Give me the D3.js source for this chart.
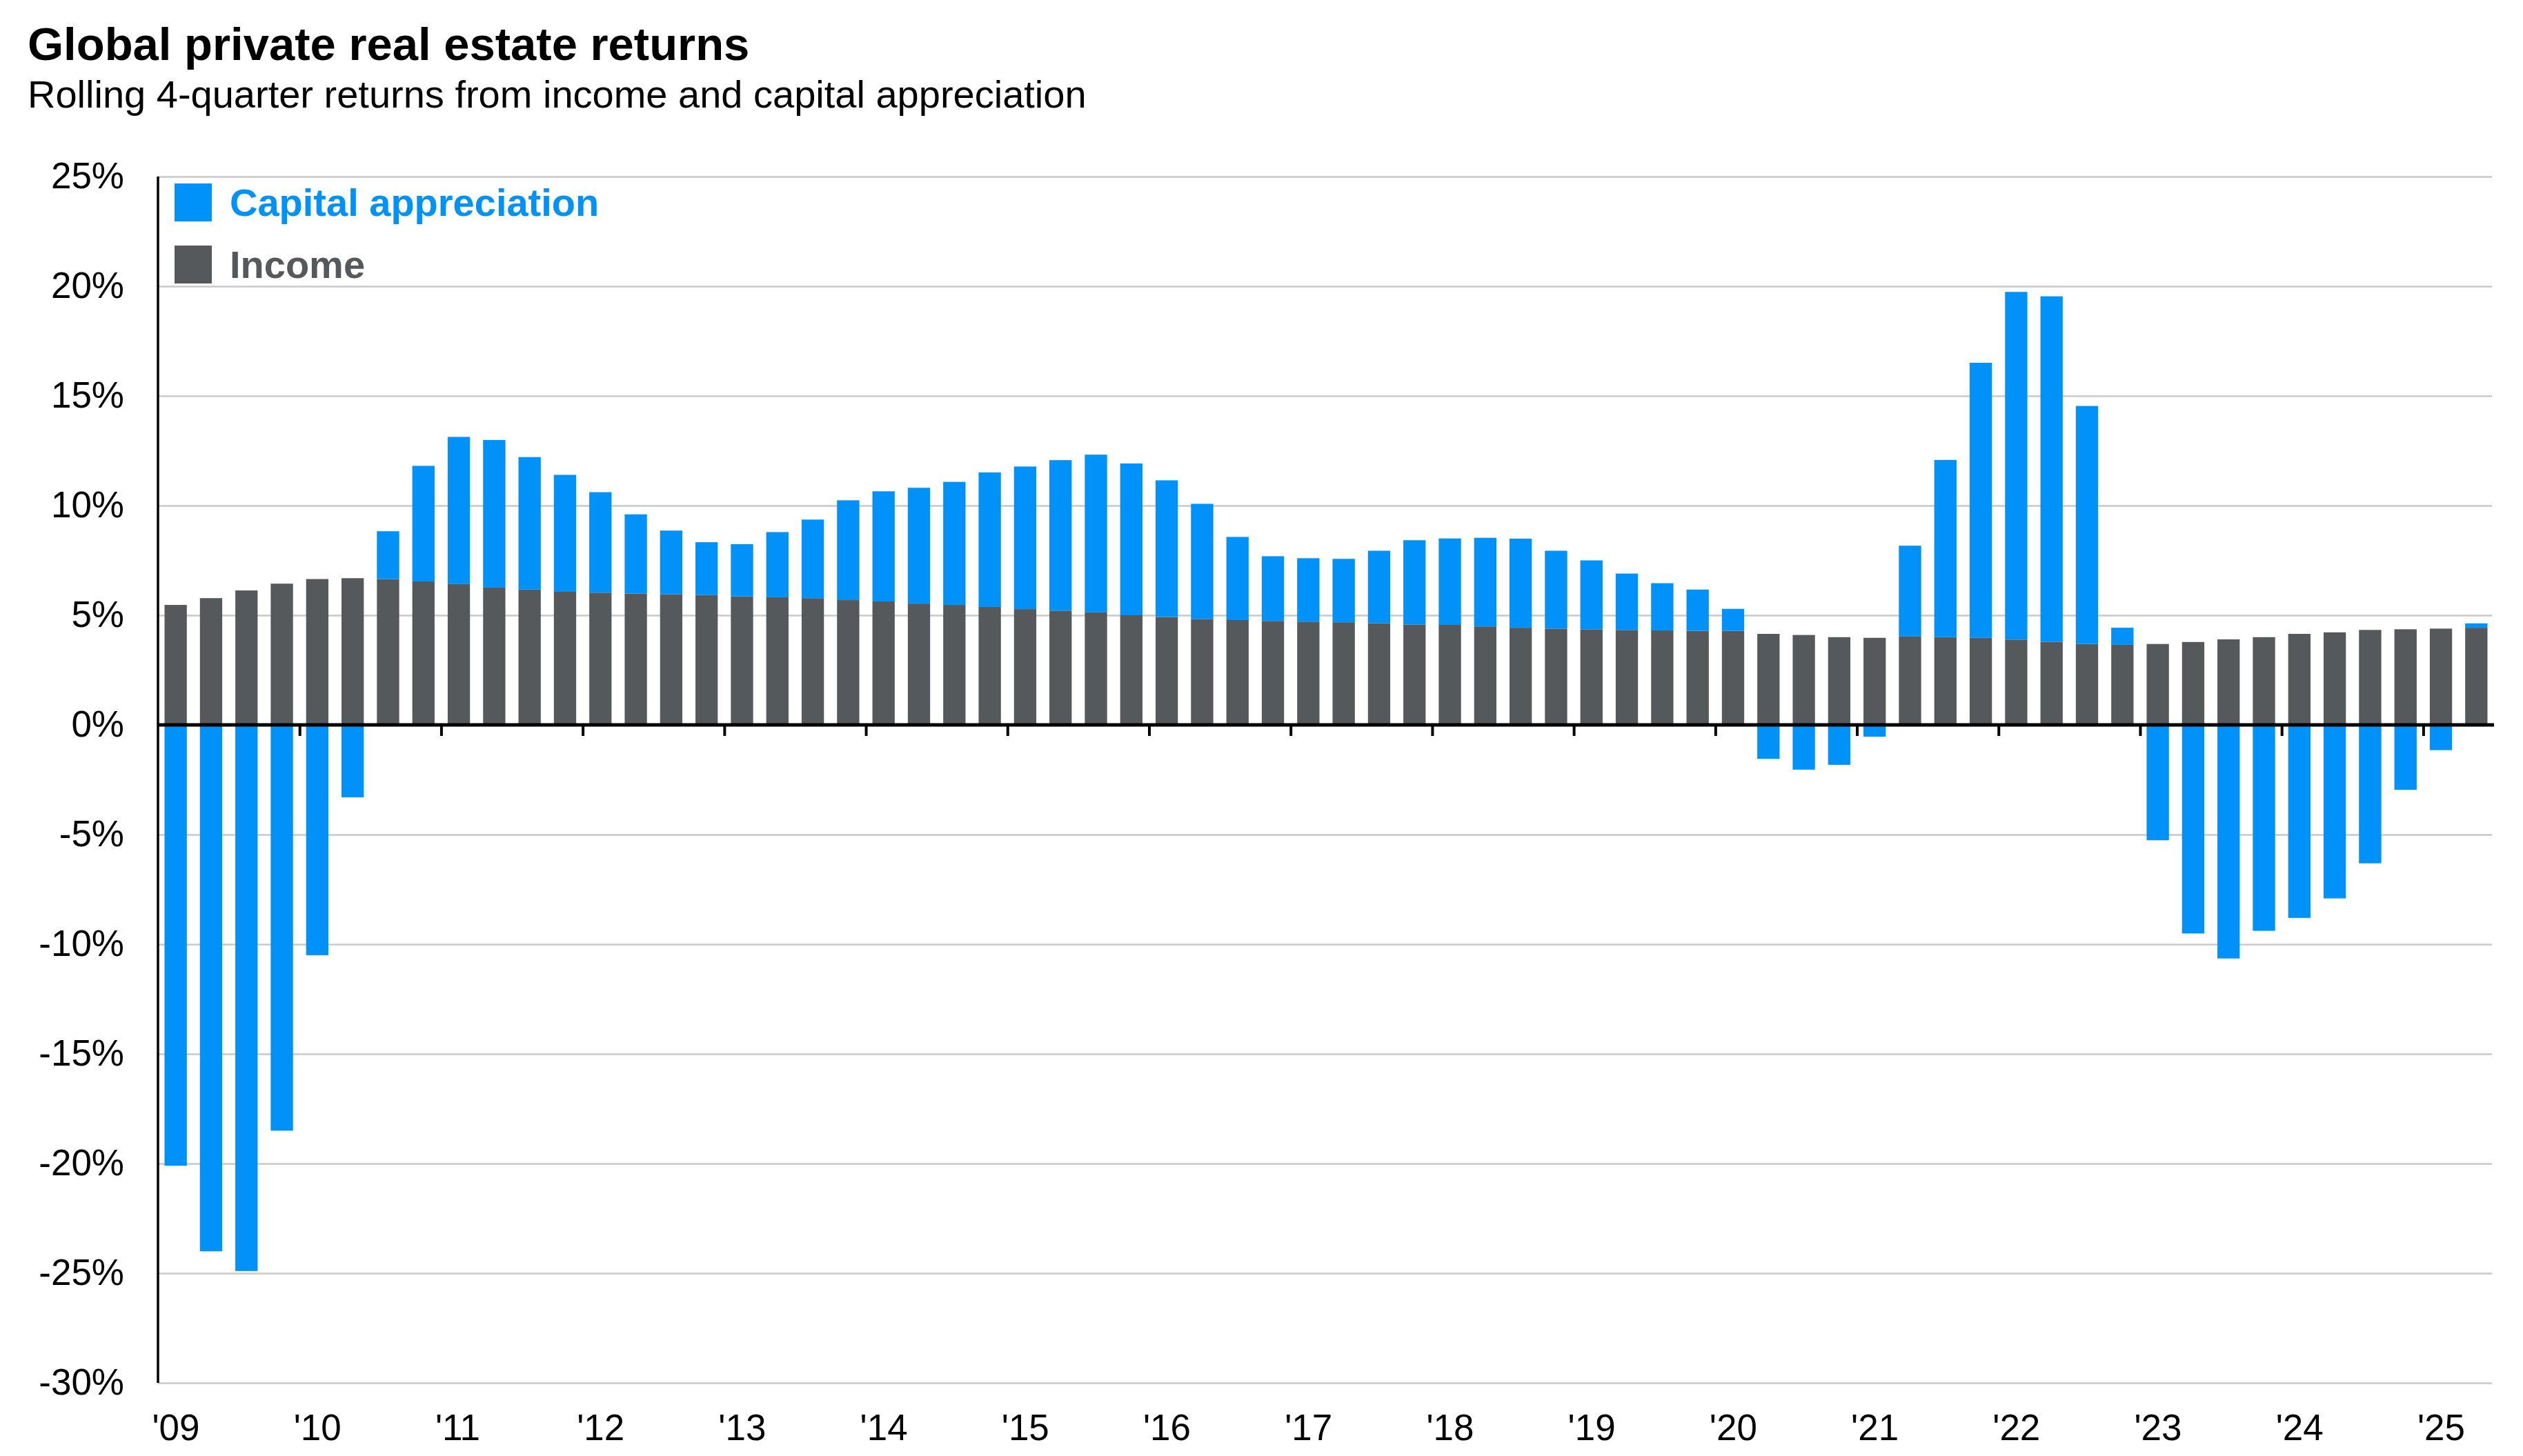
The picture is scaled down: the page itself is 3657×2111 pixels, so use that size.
<!DOCTYPE html>
<html>
<head>
<meta charset="utf-8">
<script src="https://cdn.jsdelivr.net/npm/d3@7"></script>
<style>
  body { margin: 0; background: #fff; }
  text { font-family: "Liberation Sans", Arial, sans-serif; }
</style>
</head>
<body>
<svg id="chart"></svg>
<script>

// Quarter categories, 1Q09 .. 2Q25
const quarters = [
  "1Q09","2Q09","3Q09","4Q09","1Q10","2Q10","3Q10","4Q10",
  "1Q11","2Q11","3Q11","4Q11","1Q12","2Q12","3Q12","4Q12",
  "1Q13","2Q13","3Q13","4Q13","1Q14","2Q14","3Q14","4Q14",
  "1Q15","2Q15","3Q15","4Q15","1Q16","2Q16","3Q16","4Q16",
  "1Q17","2Q17","3Q17","4Q17","1Q18","2Q18","3Q18","4Q18",
  "1Q19","2Q19","3Q19","4Q19","1Q20","2Q20","3Q20","4Q20",
  "1Q21","2Q21","3Q21","4Q21","1Q22","2Q22","3Q22","4Q22",
  "1Q23","2Q23","3Q23","4Q23","1Q24","2Q24","3Q24","4Q24",
  "1Q25","2Q25"
];

// Rolling 4-quarter income return (%)
const income = [
  5.47, 5.78, 6.13, 6.44, 6.65, 6.69, 6.65, 6.54,
  6.42, 6.26, 6.17, 6.07, 6.03, 5.99, 5.96, 5.92,
  5.86, 5.82, 5.78, 5.69, 5.63, 5.53, 5.47, 5.38,
  5.28, 5.21, 5.13, 5.00, 4.92, 4.83, 4.78, 4.74,
  4.71, 4.68, 4.64, 4.58, 4.56, 4.49, 4.43, 4.39,
  4.36, 4.33, 4.31, 4.29, 4.29, 4.15, 4.10, 4.00,
  3.97, 4.03, 4.00, 3.97, 3.89, 3.79, 3.69, 3.65,
  3.69, 3.78, 3.90, 4.00, 4.15, 4.22, 4.33, 4.36,
  4.39, 4.43
];

// Rolling 4-quarter capital appreciation (%)
const capital = [
  -20.1, -24.0, -24.9, -18.5, -10.5, -3.3, 2.18, 5.27,
  6.71, 6.73, 6.04, 5.33, 4.58, 3.61, 2.90, 2.41,
  2.38, 2.97, 3.58, 4.55, 5.02, 5.28, 5.61, 6.13,
  6.50, 6.86, 7.19, 6.92, 6.23, 5.25, 3.79, 2.95,
  2.89, 2.89, 3.30, 3.84, 3.94, 4.04, 4.06, 3.55,
  3.14, 2.57, 2.15, 1.88, 1.00, -1.55, -2.04, -1.82,
  -0.54, 4.14, 8.08, 12.54, 15.85, 15.75, 10.85, 0.78,
  -5.26, -9.51, -10.65, -9.39, -8.80, -7.91, -6.31, -2.96,
  -1.15, 0.20
];

const yTicks = [-30, -25, -20, -15, -10, -5, 0, 5, 10, 15, 20, 25];
const years = ["'09","'10","'11","'12","'13","'14","'15","'16","'17","'18","'19","'20","'21","'22","'23","'24","'25"];

const seriesNames = ["Capital appreciation", "Income"];
const colors = { "Capital appreciation": "#0091f9", "Income": "#56595c" };

const W = 3657, H = 2111;
const plot = { left: 229, right: 3615, top: 256, bottom: 2005 };

const svg = d3.select("#chart")
  .attr("width", W)
  .attr("height", H);

// Title + subtitle
svg.append("text")
  .attr("x", 40).attr("y", 87)
  .attr("font-size", 67).attr("font-weight", "bold")
  .text("Global private real estate returns");

svg.append("text")
  .attr("x", 40).attr("y", 156)
  .attr("font-size", 56)
  .text("Rolling 4-quarter returns from income and capital appreciation");

// Scales
const x = d3.scaleBand()
  .domain(quarters)
  .range([plot.left, plot.right])
  .paddingInner(0.37)
  .paddingOuter(0.185);

// year scale for ticks at year boundaries (4 quarters per year)
const xYear = d3.scaleLinear()
  .domain([0, quarters.length / 4])
  .range([plot.left, plot.right]);

const y = d3.scaleLinear()
  .domain([-30, 25])
  .range([plot.bottom, plot.top]);

// Gridlines
svg.append("g")
  .attr("transform", `translate(${plot.left},0)`)
  .call(d3.axisRight(y).tickValues(yTicks).tickSize(plot.right - plot.left - 3).tickFormat(""))
  .call(g => g.select(".domain").remove())
  .call(g => g.selectAll("line").attr("stroke", "#c8c8c8").attr("stroke-width", 2.5));

// Y axis labels
svg.append("g")
  .attr("transform", `translate(${plot.left},0)`)
  .call(d3.axisLeft(y).tickValues(yTicks).tickSize(0).tickPadding(49).tickFormat(d => d + "%"))
  .call(g => g.select(".domain").remove())
  .call(g => g.selectAll("text")
    .attr("font-size", 53)
    .attr("font-family", "'Liberation Sans', Arial, sans-serif")
    .attr("fill", "#000"));

// Stacked bars, income first so capital stacks on top (negatives go down from 0)
const table = quarters.map((q, i) => ({
  quarter: q,
  "Income": income[i],
  "Capital appreciation": capital[i]
}));

const stacked = d3.stack()
  .keys(["Income", "Capital appreciation"])
  .offset(d3.stackOffsetDiverging)(table);

svg.append("g")
  .selectAll("g")
  .data(stacked)
  .join("g")
    .attr("fill", d => colors[d.key])
  .selectAll("rect")
  .data(d => d)
  .join("rect")
    .attr("x", d => x(d.data.quarter))
    .attr("width", x.bandwidth())
    .attr("y", d => y(Math.max(d[0], d[1])))
    .attr("height", d => Math.abs(y(d[0]) - y(d[1])));

// Y axis line
svg.append("line")
  .attr("x1", plot.left).attr("x2", plot.left)
  .attr("y1", plot.top).attr("y2", plot.bottom)
  .attr("stroke", "#000").attr("stroke-width", 3.5);

// Zero line with year ticks
svg.append("g")
  .attr("transform", `translate(0,${y(0)})`)
  .call(d3.axisBottom(xYear).tickValues(d3.range(1, years.length)).tickSize(16).tickFormat(""))
  .call(g => g.select(".domain")
    .attr("d", `M${plot.left},0H${plot.right}`)
    .attr("stroke", "#000").attr("stroke-width", 5))
  .call(g => g.selectAll(".tick line").attr("stroke", "#000").attr("stroke-width", 4));

// Year labels along the bottom
svg.append("g")
  .attr("transform", `translate(0,${plot.bottom})`)
  .call(d3.axisBottom(xYear).tickValues(d3.range(0, years.length)).tickSize(0).tickPadding(45)
    .tickFormat(i => years[i]))
  .call(g => g.select(".domain").remove())
  .call(g => g.selectAll("text")
    .attr("font-size", 53)
    .attr("font-family", "'Liberation Sans', Arial, sans-serif")
    .attr("fill", "#000")
    .attr("text-anchor", "start")
    .attr("dx", -9));

// Legend
const legend = svg.append("g")
  .selectAll("g")
  .data(seriesNames)
  .join("g")
    .attr("transform", (d, i) => `translate(253,${266 + i * 90})`);

legend.append("rect")
  .attr("width", 54).attr("height", 55)
  .attr("fill", d => colors[d]);

legend.append("text")
  .attr("x", 80).attr("y", 47)
  .attr("font-size", 56).attr("font-weight", "bold")
  .attr("fill", d => colors[d])
  .text(d => d);

</script>
</body>
</html>
